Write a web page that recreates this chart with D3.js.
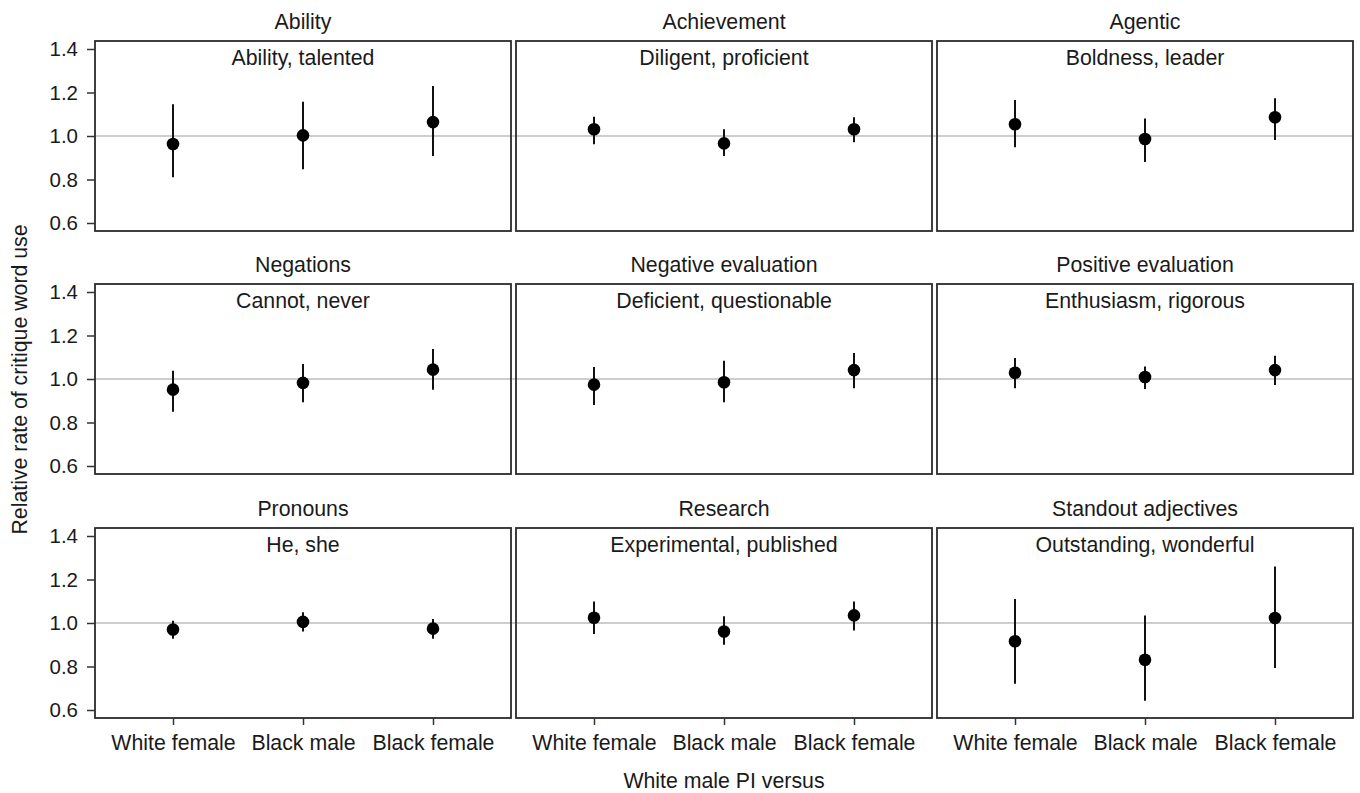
<!DOCTYPE html>
<html>
<head>
<meta charset="utf-8">
<script src="https://cdn.jsdelivr.net/npm/d3@7"></script>
<style>
  html, body { margin: 0; padding: 0; background: #fff; }
  svg { display: block; font-family: "Liberation Sans", Arial, Helvetica, sans-serif; }
</style>
</head>
<body>
<svg id="chart" width="1360" height="793"></svg>
<script>
// Comparison groups (x axis) and word categories (one panel each)
const groups = ["White female", "Black male", "Black female"];
const categories = ["Ability", "Achievement", "Agentic",
                    "Negations", "Negative evaluation", "Positive evaluation",
                    "Pronouns", "Research", "Standout adjectives"];
const examples = ["Ability, talented", "Diligent, proficient", "Boldness, leader",
                  "Cannot, never", "Deficient, questionable", "Enthusiasm, rigorous",
                  "He, she", "Experimental, published", "Outstanding, wonderful"];

// Relative rate estimates, per category, in group order
const estimate = [
  [0.963, 1.003, 1.064],
  [1.031, 0.966, 1.031],
  [1.054, 0.986, 1.086],
  [0.951, 0.982, 1.043],
  [0.974, 0.985, 1.041],
  [1.029, 1.009, 1.041],
  [0.970, 1.005, 0.974],
  [1.024, 0.961, 1.035],
  [0.916, 0.831, 1.023]
];
// Lower and upper interval bounds
const lower = [
  [0.810, 0.847, 0.908],
  [0.962, 0.908, 0.971],
  [0.948, 0.880, 0.982],
  [0.850, 0.893, 0.951],
  [0.880, 0.893, 0.957],
  [0.957, 0.954, 0.972],
  [0.928, 0.961, 0.928],
  [0.949, 0.900, 0.966],
  [0.721, 0.643, 0.793]
];
const upper = [
  [1.146, 1.158, 1.230],
  [1.089, 1.031, 1.086],
  [1.166, 1.081, 1.173],
  [1.038, 1.069, 1.138],
  [1.055, 1.084, 1.120],
  [1.097, 1.058, 1.107],
  [1.010, 1.049, 1.018],
  [1.099, 1.031, 1.099],
  [1.110, 1.034, 1.260]
];
const yTicks = [0.6, 0.8, 1.0, 1.2, 1.4];
const refValue = 1.0;

// Layout
const colX = [95, 516, 937];
const rowY = [41, 284, 528];
const panelW = 416, panelH = 190;
const fontSize = 21.3;
const ink = "#1a1a1a";

const svg = d3.select("#chart");

const x = d3.scalePoint().domain(groups).range([0, panelW]).padding(0.6);
// 0.6..1.4 spans 174px; the remaining space is split evenly above and below
const pad = (panelH - 174) / 2 / 174 * 0.8;
const y = d3.scaleLinear().domain([0.6 - pad, 1.4 + pad]).range([panelH, 0]);

// Reference line at 1.0 across each row
rowY.forEach(ry => {
  svg.append("line")
    .attr("x1", colX[0]).attr("x2", colX[2] + panelW)
    .attr("y1", ry + y(refValue)).attr("y2", ry + y(refValue))
    .attr("stroke", "#bdbdbd").attr("stroke-width", 1.6);
});

categories.forEach((cat, i) => {
  const col = i % 3, row = Math.floor(i / 3);
  const g = svg.append("g").attr("transform", `translate(${colX[col]},${rowY[row]})`);

  // Panel title above the box
  g.append("text")
    .attr("x", panelW / 2).attr("y", -12)
    .attr("text-anchor", "middle")
    .attr("font-size", fontSize).attr("fill", ink)
    .text(cat);

  // Example words inside the box
  g.append("text")
    .attr("x", panelW / 2).attr("y", 24)
    .attr("text-anchor", "middle")
    .attr("font-size", fontSize).attr("fill", ink)
    .text(examples[i]);

  // Interval lines and points
  const pts = groups.map((grp, j) => ({ grp, est: estimate[i][j], lo: lower[i][j], hi: upper[i][j] }));
  g.selectAll("line.ci").data(pts).join("line")
    .attr("class", "ci")
    .attr("x1", d => x(d.grp)).attr("x2", d => x(d.grp))
    .attr("y1", d => y(d.lo)).attr("y2", d => y(d.hi))
    .attr("stroke", "#111").attr("stroke-width", 2);
  g.selectAll("circle.pt").data(pts).join("circle")
    .attr("class", "pt")
    .attr("cx", d => x(d.grp)).attr("cy", d => y(d.est))
    .attr("r", 6.3).attr("fill", "#000");

  // Box
  g.append("rect")
    .attr("x", 0).attr("y", 0).attr("width", panelW).attr("height", panelH)
    .attr("fill", "none").attr("stroke", "#2b2b2b").attr("stroke-width", 1.8);

  // Y axis on the left column
  if (col === 0) {
    const ya = g.append("g")
      .call(d3.axisLeft(y).tickValues(yTicks).tickFormat(d3.format(".1f")).tickSize(8).tickPadding(9));
    ya.select(".domain").remove();
    ya.selectAll(".tick line").attr("stroke", "#333").attr("stroke-width", 1.5);
    ya.selectAll(".tick text").attr("font-size", 20.5).attr("fill", ink)
      .attr("font-family", "Liberation Sans, Arial, sans-serif");
  }

  // X axis on the bottom row
  if (row === 2) {
    const xa = g.append("g").attr("transform", `translate(0,${panelH})`)
      .call(d3.axisBottom(x).tickSize(7).tickPadding(10));
    xa.select(".domain").remove();
    xa.selectAll(".tick line").attr("stroke", "#333").attr("stroke-width", 1.5);
    xa.selectAll(".tick text").attr("font-size", fontSize).attr("fill", ink)
      .attr("font-family", "Liberation Sans, Arial, sans-serif");
  }
});

// Axis titles
svg.append("text")
  .attr("x", colX[1] + panelW / 2).attr("y", 788)
  .attr("text-anchor", "middle")
  .attr("font-size", fontSize).attr("fill", ink)
  .text("White male PI versus");

svg.append("text")
  .attr("transform", `translate(27,${(rowY[0] + rowY[2] + panelH) / 2}) rotate(-90)`)
  .attr("text-anchor", "middle")
  .attr("font-size", fontSize).attr("fill", ink)
  .text("Relative rate of critique word use");
</script>
</body>
</html>
